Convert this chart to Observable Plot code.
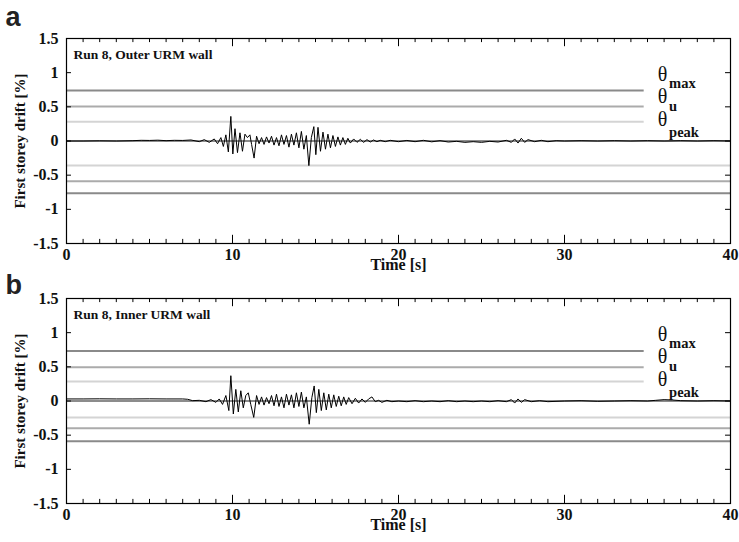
<!DOCTYPE html>
<html><head><meta charset="utf-8">
<script src="https://cdn.jsdelivr.net/npm/d3@7"></script>
<script src="https://cdn.jsdelivr.net/npm/@observablehq/plot@0.6"></script>
<style>
body{margin:0;background:#fff;}
#chart{width:739px;height:542px;overflow:hidden;background:#fff;}
#chart svg{display:block;overflow:visible;}
</style>
</head><body><div id="chart"></div>
<script>
// ---------- data ----------
const panelLetters = ["a", "b"];
const panelTitles = ["Run 8, Outer URM wall", "Run 8, Inner URM wall"];

const timeA = [0,1,2,3,4,4.5,5,5.5,6,6.5,7,7.5,8,8.3,8.6,8.9,9.1,9.3,9.45,9.6,9.75,9.9,10.02,10.15,10.3,10.45,10.6,10.75,10.9,11.05,11.15,11.3,11.45,11.6,11.75,11.9,12.05,12.2,12.35,12.5,12.65,12.8,12.95,13.1,13.25,13.4,13.55,13.7,13.85,14.0,14.15,14.3,14.45,14.6,14.75,14.9,15.02,15.15,15.3,15.45,15.6,15.75,15.9,16.05,16.2,16.35,16.5,16.65,16.8,16.95,17.1,17.3,17.5,17.7,17.9,18.1,18.3,18.5,18.7,18.9,19.2,19.5,20,20.5,21,21.5,22,22.5,23,23.5,24,24.5,25,25.5,26,26.5,26.8,27.0,27.2,27.4,27.6,27.8,28.2,28.6,29,29.5,30,31,32,33,34,35,36,37,38,39,40];
const driftA = [0,0,0.003,0,0.005,0.01,0.008,0.012,0.005,0.01,0.008,0.015,-0.01,0.02,-0.02,0.03,-0.04,0.05,-0.08,0.09,-0.16,0.36,-0.19,0.18,-0.17,0.12,-0.15,0.1,0.05,0.09,-0.05,-0.25,0.07,-0.04,0.05,-0.05,0.06,-0.03,0.07,-0.06,0.05,-0.07,0.09,-0.05,0.08,-0.09,0.1,-0.06,0.12,-0.1,0.14,-0.12,0.08,-0.36,0.05,0.21,-0.2,0.2,-0.15,0.13,-0.12,0.1,-0.1,0.08,-0.08,0.06,-0.06,0.05,-0.05,0.04,-0.03,0.03,-0.02,0.025,-0.02,0.02,-0.015,0.015,-0.01,0.01,-0.01,0.01,-0.01,0.008,-0.01,0.01,-0.012,0.005,-0.015,-0.005,-0.02,-0.01,-0.02,-0.005,-0.015,0.01,-0.02,0.03,-0.03,0.04,-0.02,0.02,-0.01,0.01,-0.01,0.005,0,0.005,0,0.005,0,0.005,0,0.005,0,0.005,0];

const timeB = [0,1,2,3,4,5,6,7,7.3,7.6,8,8.4,8.7,9.0,9.2,9.4,9.6,9.78,9.9,10.05,10.2,10.35,10.5,10.65,10.8,10.95,11.1,11.28,11.45,11.6,11.75,11.9,12.05,12.2,12.35,12.5,12.65,12.8,12.95,13.1,13.25,13.4,13.55,13.7,13.85,14.0,14.15,14.3,14.45,14.62,14.78,14.92,15.05,15.2,15.35,15.5,15.65,15.8,15.95,16.1,16.25,16.4,16.55,16.7,16.85,17.0,17.2,17.4,17.6,17.8,18.0,18.2,18.4,18.6,18.8,19.0,19.3,19.6,20,20.5,21,21.5,22,22.5,23,23.5,24,24.5,25,25.5,26,26.5,26.8,27.0,27.2,27.4,27.6,28,28.5,29,30,31,32,33,34,35,35.5,36,36.5,37,38,39,40];
const driftB = [0.03,0.03,0.032,0.03,0.03,0.032,0.03,0.03,0.025,0.005,0.01,-0.01,0.02,-0.02,0.03,-0.05,0.08,-0.14,0.37,-0.19,0.17,-0.16,0.15,-0.1,0.08,0.12,-0.05,-0.24,0.08,-0.05,0.06,-0.06,0.05,-0.04,0.08,-0.07,0.1,-0.08,0.06,-0.1,0.1,-0.06,0.09,-0.1,0.12,-0.08,0.13,-0.1,0.06,-0.34,0.05,0.22,-0.17,0.17,-0.14,0.12,-0.13,0.1,-0.1,0.09,-0.08,0.07,-0.07,0.06,-0.05,0.05,-0.04,0.04,-0.03,0.03,-0.02,0.03,0.06,-0.01,0.01,-0.02,0.01,-0.01,0,-0.01,0.005,-0.01,0,-0.01,0.005,-0.01,0,-0.01,0,-0.01,0.005,-0.01,0.02,-0.03,0.03,-0.02,0.02,-0.01,0.005,-0.01,0,0.005,-0.005,0,0.005,0,0.01,0.02,0.015,0.005,0,0.005,0];

// drift limits: [theta_max, theta_u, theta_peak] positive and negative side
const thetaPosA = [0.74, 0.505, 0.28];
const thetaNegA = [-0.765, -0.59, -0.36];
const thetaPosB = [0.73, 0.495, 0.285];
const thetaNegB = [-0.59, -0.40, -0.24];
const thetaNames = ["max", "u", "peak"];

const yTicks = [-1.5, -1, -0.5, 0, 0.5, 1, 1.5];
const xTicks = [0, 10, 20, 30, 40];
const xMinorTicks = d3.range(0, 41, 1);

// ---------- drawing ----------
const lineColors = ["#8a8a8a", "#ababab", "#d4d4d4"];
const serif = "Liberation Serif";

function panel(letter, title, times, drift, pos, neg, mTop, mBottom, letterDy) {
  const data = times.map((t, i) => ({t, v: drift[i]}));
  const posRules = pos.map((y, i) => ({y, c: lineColors[i]}));
  const negRules = neg.map((y, i) => ({y, c: lineColors[i]}));
  const labelY = [0.973, 0.65, 0.315];
  const subY = [0.842, 0.505, 0.124];
  const thetaLab = thetaNames.map((n, i) => ({n, y: labelY[i], sy: subY[i]}));
  const H = 271;
  return Plot.plot({
    width: 739, height: H,
    marginLeft: 66, marginRight: 9, marginTop: mTop, marginBottom: mBottom,
    x: {domain: [0, 40]},
    y: {domain: [-1.5, 1.5]},
    color: {type: "identity"},
    style: {fontFamily: serif, fontSize: "16px", color: "#111", background: "transparent", overflow: "visible"},
    marks: [
      Plot.ruleY([0], {x1: 0, x2: 40, stroke: "#666", strokeWidth: 1.5}),
      Plot.ruleY(posRules, {y: "y", x1: 0, x2: 34.8, stroke: "c", strokeWidth: 2}),
      Plot.ruleY(negRules, {y: "y", x1: 0, x2: 40, stroke: "c", strokeWidth: 2}),
      Plot.line(data, {x: "t", y: "v", stroke: "#000", strokeWidth: 1}),
      // inward ticks
      Plot.ruleY(yTicks, {x1: 0, x2: 0.3, stroke: "#000"}),
      Plot.ruleY(yTicks, {x1: 39.7, x2: 40, stroke: "#000"}),
      Plot.ruleX(xMinorTicks, {y1: -1.5, y2: -1.5 + 0.06, stroke: "#000"}),
      Plot.ruleX(xMinorTicks, {y1: 1.5, y2: 1.5 - 0.06, stroke: "#000"}),
      Plot.ruleX(xTicks, {y1: -1.5, y2: -1.5 + 0.12, stroke: "#000"}),
      Plot.ruleX(xTicks, {y1: 1.5, y2: 1.5 - 0.12, stroke: "#000"}),
      Plot.frame({stroke: "#000", strokeWidth: 1.2}),
      Plot.axisY({ticks: yTicks, tickSize: 0, tickPadding: 8, tickFormat: d => String(d),
        fontFamily: serif, fontWeight: "bold", fontSize: 16,
        label: null}),
      Plot.axisY({ticks: [], tickSize: 0,
        fontFamily: serif, fontWeight: "bold", fontSize: 15,
        label: "First storey drift [%]", labelAnchor: "center", labelArrow: "none", labelOffset: 52}),
      Plot.axisX({ticks: xTicks, tickSize: 0, tickPadding: 5, tickFormat: d => String(d),
        fontFamily: serif, fontWeight: "bold", fontSize: 16, label: null}),
      Plot.axisX({ticks: [], tickSize: 0,
        fontFamily: serif, fontWeight: "bold", fontSize: 16,
        label: "Time [s]", labelAnchor: "center", labelArrow: "none", labelOffset: 26}),
      // theta labels
      Plot.text(thetaLab, {x: 35.9, y: "y", text: () => "θ", fontSize: 20, fontFamily: serif, fill: "#111"}),
      Plot.text(thetaLab, {x: 36.3, y: "sy", text: "n", textAnchor: "start", fontSize: 14.5, fontFamily: serif, fontWeight: "bold", fill: "#111"}),
      // title inside frame
      Plot.text([title], {frameAnchor: "top-left", dx: 7, dy: 11, fontSize: 13.5, fontFamily: serif, fontWeight: "bold", fill: "#111"}),
      // panel letter
      Plot.text([letter], {frameAnchor: "top-left", dx: -61, dy: letterDy, fontSize: 27, fontWeight: "bold",
        fontFamily: "Liberation Sans", fill: "#222"})
    ]
  });
}

const root = document.getElementById("chart");
root.appendChild(panel(panelLetters[0], panelTitles[0], timeA, driftA, thetaPosA, thetaNegA, 38, 28, -32));
root.appendChild(panel(panelLetters[1], panelTitles[1], timeB, driftB, thetaPosB, thetaNegB, 27, 39, -24));
</script>
</body></html>
